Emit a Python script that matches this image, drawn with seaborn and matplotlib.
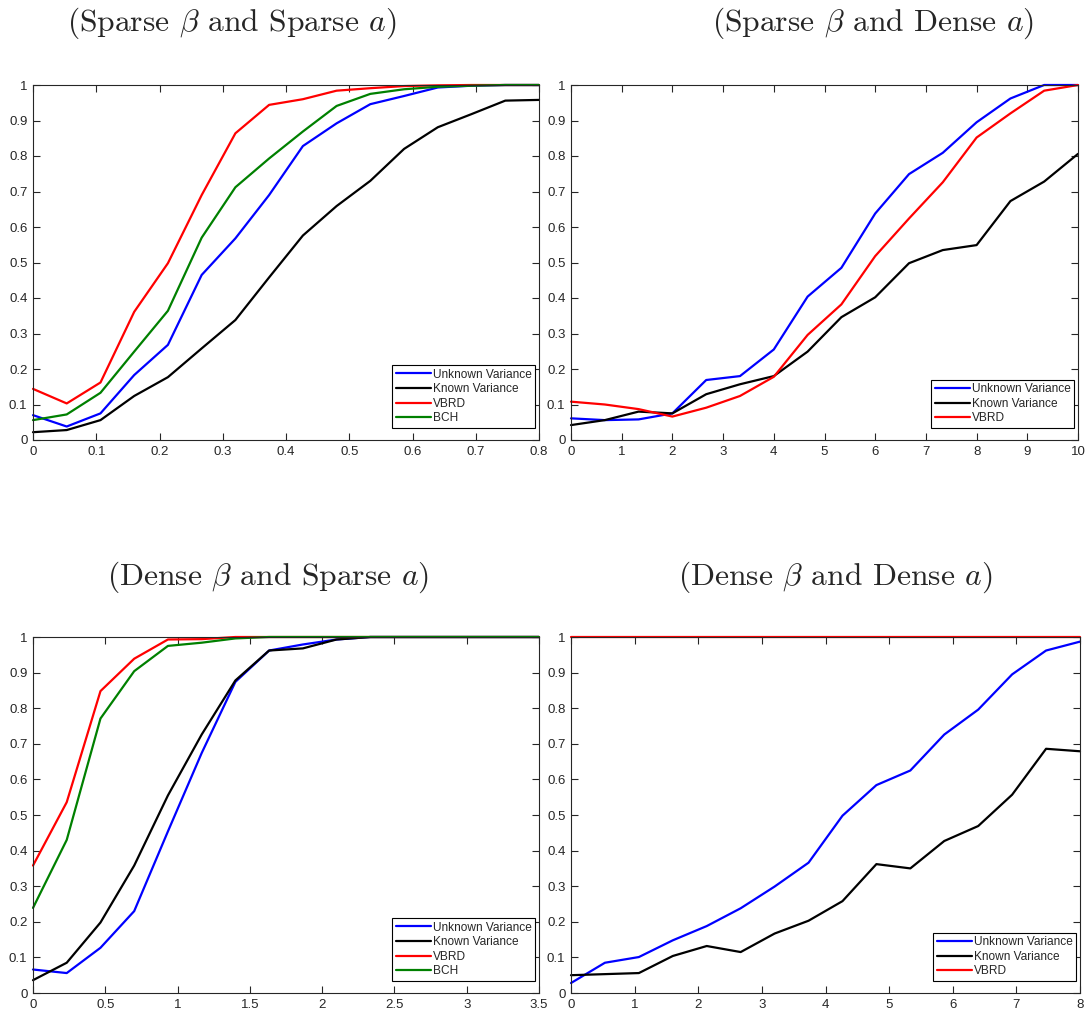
import matplotlib
matplotlib.use('Agg')
import matplotlib.pyplot as plt
import numpy as np
import pandas as pd
import seaborn as sns

# ---- data ----
x_ss = [0, 0.0533, 0.1067, 0.16, 0.2133, 0.2667, 0.32, 0.3733, 0.4267, 0.48,
        0.5333, 0.5867, 0.64, 0.6933, 0.7467, 0.8]
ss_unknown = [0.070, 0.038, 0.075, 0.183, 0.268, 0.465, 0.568, 0.690, 0.828, 0.892,
              0.946, 0.969, 0.993, 0.998, 1.0, 1.0]
ss_known = [0.022, 0.028, 0.056, 0.124, 0.177, 0.258, 0.338, 0.458, 0.576, 0.659,
            0.730, 0.820, 0.881, 0.918, 0.956, 0.958]
ss_vbrd = [0.144, 0.103, 0.162, 0.361, 0.498, 0.690, 0.864, 0.944, 0.960, 0.984,
           0.991, 0.997, 0.999, 1.0, 1.0, 1.0]
ss_bch = [0.056, 0.072, 0.133, 0.249, 0.364, 0.570, 0.712, 0.793, 0.869, 0.941,
          0.975, 0.988, 0.995, 0.998, 1.0, 1.0]

x_sd = [0, 0.667, 1.333, 2.0, 2.667, 3.333, 4.0, 4.667, 5.333, 6.0,
        6.667, 7.333, 8.0, 8.667, 9.333, 10.0]
sd_unknown = [0.061, 0.056, 0.058, 0.075, 0.169, 0.180, 0.255, 0.404, 0.485, 0.638,
              0.749, 0.809, 0.895, 0.962, 1.0, 1.0]
sd_known = [0.042, 0.056, 0.080, 0.075, 0.129, 0.157, 0.180, 0.249, 0.346, 0.402,
            0.498, 0.535, 0.549, 0.673, 0.728, 0.806]
sd_vbrd = [0.108, 0.100, 0.087, 0.066, 0.091, 0.124, 0.178, 0.296, 0.382, 0.518,
           0.624, 0.726, 0.852, 0.920, 0.984, 1.0]

x_ds = [0, 0.2333, 0.4667, 0.7, 0.9333, 1.1667, 1.4, 1.6333, 1.8667, 2.1,
        2.3333, 2.5667, 2.8, 3.0333, 3.2667, 3.5]
ds_unknown = [0.066, 0.056, 0.127, 0.230, 0.454, 0.674, 0.874, 0.962, 0.979, 0.993,
              1.0, 1.0, 1.0, 1.0, 1.0, 1.0]
ds_known = [0.036, 0.085, 0.198, 0.358, 0.555, 0.726, 0.878, 0.962, 0.968, 0.993,
            1.0, 1.0, 1.0, 1.0, 1.0, 1.0]
ds_vbrd = [0.358, 0.536, 0.848, 0.939, 0.993, 0.994, 1.0, 1.0, 1.0, 1.0,
           1.0, 1.0, 1.0, 1.0, 1.0, 1.0]
ds_bch = [0.239, 0.430, 0.771, 0.904, 0.975, 0.984, 0.996, 1.0, 1.0, 1.0,
          1.0, 1.0, 1.0, 1.0, 1.0, 1.0]

x_dd = [0, 0.5333, 1.0667, 1.6, 2.1333, 2.6667, 3.2, 3.7333, 4.2667, 4.8,
        5.3333, 5.8667, 6.4, 6.9333, 7.4667, 8.0]
dd_unknown = [0.028, 0.085, 0.101, 0.148, 0.188, 0.238, 0.299, 0.366, 0.498, 0.584,
              0.625, 0.726, 0.796, 0.895, 0.962, 0.987]
dd_known = [0.050, 0.053, 0.056, 0.104, 0.132, 0.115, 0.167, 0.203, 0.258, 0.362,
            0.350, 0.427, 0.469, 0.557, 0.686, 0.679]
dd_vbrd = [1.0] * 16

titles = [r'(Sparse $\beta$ and Sparse $a$)', r'(Sparse $\beta$ and Dense $a$)',
          r'(Dense $\beta$ and Sparse $a$)', r'(Dense $\beta$ and Dense $a$)']
yticks = [0, 0.1, 0.2, 0.3, 0.4, 0.5, 0.6, 0.7, 0.8, 0.9, 1]
ytick_labels = ['0', '0.1', '0.2', '0.3', '0.4', '0.5', '0.6', '0.7', '0.8', '0.9', '1']
xtick_sets = [
    ([0, 0.1, 0.2, 0.3, 0.4, 0.5, 0.6, 0.7, 0.8], ['0', '0.1', '0.2', '0.3', '0.4', '0.5', '0.6', '0.7', '0.8']),
    (list(range(0, 11)), [str(i) for i in range(0, 11)]),
    ([0, 0.5, 1, 1.5, 2, 2.5, 3, 3.5], ['0', '0.5', '1', '1.5', '2', '2.5', '3', '3.5']),
    (list(range(0, 9)), [str(i) for i in range(0, 9)]),
]
colors = {'Unknown Variance': '#0000ff', 'Known Variance': '#000000',
          'VBRD': '#ff0000', 'BCH': '#008000'}


def make_df(x, series):
    frames = []
    for name, vals in series.items():
        frames.append(pd.DataFrame({'x': x, 'y': vals, 'method': name}))
    return pd.concat(frames, ignore_index=True)


panels = [
    make_df(x_ss, {'Unknown Variance': ss_unknown, 'Known Variance': ss_known,
                   'VBRD': ss_vbrd, 'BCH': ss_bch}),
    make_df(x_sd, {'Unknown Variance': sd_unknown, 'Known Variance': sd_known,
                   'VBRD': sd_vbrd}),
    make_df(x_ds, {'Unknown Variance': ds_unknown, 'Known Variance': ds_known,
                   'VBRD': ds_vbrd, 'BCH': ds_bch}),
    make_df(x_dd, {'Unknown Variance': dd_unknown, 'Known Variance': dd_known,
                   'VBRD': dd_vbrd}),
]

sns.set_theme(style='white')
plt.rcParams['font.family'] = ['Liberation Sans', 'DejaVu Sans']
plt.rcParams['mathtext.fontset'] = 'cm'

W, H = 1087, 1015
fig = plt.figure(figsize=(W / 100, H / 100), dpi=100)

# axes boxes in pixels: left, top, right, bottom
boxes = [(33, 85, 539, 440), (571, 85, 1078, 440),
         (33, 637, 539, 993), (571, 637, 1080, 993)]
title_pos = [(232, 23), (873, 23), (268, 577), (835, 577)]

for i, (df, box) in enumerate(zip(panels, boxes)):
    l, t, r, b = box
    aw, ah = r - l, b - t
    ax = fig.add_axes([l / W, 1 - b / H, aw / W, ah / H])
    sns.lineplot(data=df, x='x', y='y', hue='method', palette=colors,
                 linewidth=1.6, ax=ax, sort=False)
    for ln in ax.lines:
        ln.set_clip_on(False)
    xt, xl = xtick_sets[i]
    ax.set_xlim(xt[0], xt[-1])
    ax.set_ylim(0, 1)
    ax.set_xticks(xt)
    ax.set_xticklabels(xl)
    ax.set_yticks(yticks)
    ax.set_yticklabels(ytick_labels)
    ax.set_xlabel('')
    ax.set_ylabel('')
    ax.tick_params(direction='in', length=5, width=0.8, top=True, right=True,
                   bottom=True, left=True, labelsize=9.5, colors='#262626',
                   pad=4)
    for sp in ax.spines.values():
        sp.set_color('#262626')
        sp.set_linewidth(0.8)
    leg = ax.legend(loc='lower right', bbox_to_anchor=(1 - 4 / aw, 12 / ah),
                    borderaxespad=0, fontsize=8.6, frameon=True, fancybox=False,
                    framealpha=1, edgecolor='#000000', borderpad=0.3,
                    labelspacing=0.22, handlelength=3.0, handletextpad=0.1)
    leg.get_frame().set_linewidth(0.8)
    for h in leg.get_lines():
        h.set_linewidth(1.6)
    tx, ty = title_pos[i]
    fig.text(tx / W, 1 - ty / H, titles[i], ha='center', va='center',
             fontsize=22.7, family='cmr10')

fig.savefig('out.png', dpi=100)
